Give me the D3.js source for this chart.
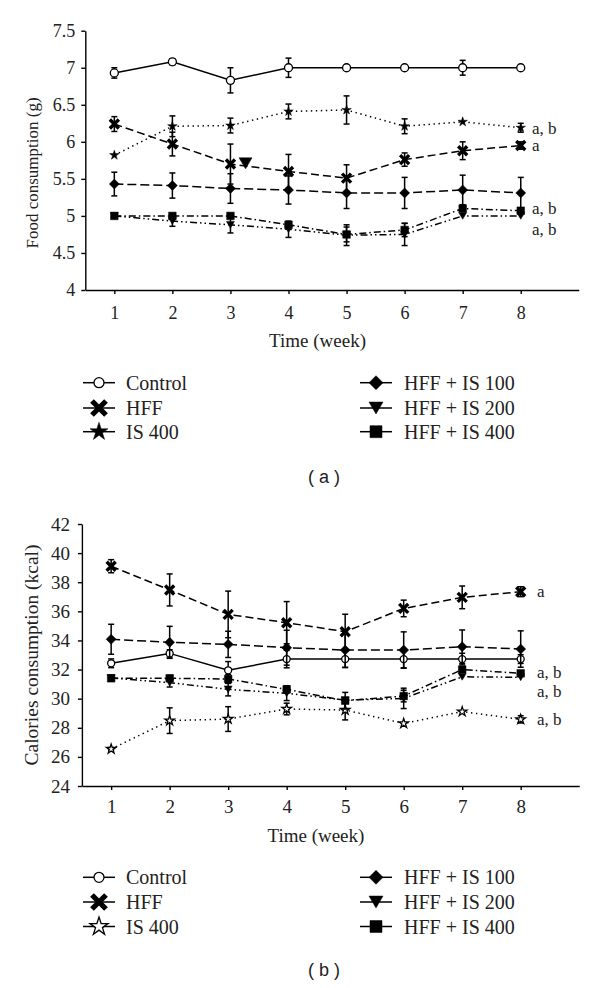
<!DOCTYPE html>
<html><head><meta charset="utf-8">
<script src="https://cdn.jsdelivr.net/npm/d3@7"></script>
<style>body{margin:0;background:#fff}svg{display:block}</style>
</head><body>
<script>
// ---------- DATA ----------
const weeks = [1,2,3,4,5,6,7,8];
const seriesNames = ["Control","HFF","IS 400","HFF + IS 100","HFF + IS 200","HFF + IS 400"];

// Panel (a) Food consumption (g)
const controlA   = [6.93,7.08,6.83,7.00,7.00,7.00,7.00,7.00];
const controlAErr= [0.07,0.04,0.17,0.13,0,0,0.10,0];
const hffA       = [6.24,5.97,5.70,5.60,5.51,5.76,5.88,5.95];
const hffAErr    = [0.10,0.16,0.27,0.23,0.18,0.09,0.12,0.05];
const is400A     = [5.82,6.21,6.22,6.41,6.43,6.21,6.27,6.19];
const is400AErr  = [0,0.14,0.10,0.10,0.19,0.10,0,0.06];
const hffIs100A  = [5.43,5.41,5.37,5.35,5.31,5.31,5.35,5.31];
const hffIs100AErr=[0.16,0.17,0.20,0.19,0.21,0.21,0.20,0.21];
const hffIs200A  = [5.00,4.93,4.88,4.82,4.74,4.75,5.00,5.00];
const hffIs200AErr=[0,0.07,0.11,0.11,0.14,0.15,0,0];
const hffIs400A  = [5.00,5.00,5.00,4.88,4.75,4.81,5.10,5.07];
const hffIs400AErr=[0,0,0,0.03,0.10,0.09,0,0];
const strayMarkerA = {week:3.26, value:5.71};
const yTicksA = [4,4.5,5,5.5,6,6.5,7,7.5];
const yTickLabelsA = ["4","4.5","5","5.5","6","6.5","7","7.5"];
const annotA = [{text:"a, b",value:6.19},{text:"a",value:5.95},{text:"a, b",value:5.11},{text:"a, b",value:4.82}];

// Panel (b) Calories consumption (kcal)
const controlB   = [32.43,33.11,31.95,32.72,32.72,32.72,32.72,32.72];
const controlBErr= [0.30,0.25,0.60,0.60,0.57,0.60,0.40,0.30];
const hffB       = [39.10,37.47,35.79,35.22,34.60,36.20,36.96,37.35];
const hffBErr    = [0.45,1.10,1.60,1.45,1.20,0.57,0.78,0.34];
const is400B     = [26.54,28.49,28.60,29.29,29.22,28.30,29.11,28.58];
const is400BErr  = [0.10,0.88,0.85,0.40,0.68,0,0,0.25];
const hffIs100B  = [34.08,33.87,33.73,33.50,33.34,33.34,33.57,33.41];
const hffIs100BErr=[1.03,1.10,0.90,1.20,1.20,1.25,1.15,1.25];
const hffIs200B  = [31.42,31.10,30.64,30.37,29.90,30.02,31.50,31.47];
const hffIs200BErr=[0,0.30,0.45,0.50,0,0.70,0,0];
const hffIs400B  = [31.40,31.40,31.35,30.64,29.86,30.18,32.00,31.74];
const hffIs400BErr=[0,0.20,0.30,0.25,0.57,0.40,0,0];
const yTicksB = [24,26,28,30,32,34,36,38,40,42];
const yTickLabelsB = ["24","26","28","30","32","34","36","38","40","42"];
const annotB = [{text:"a",value:37.4},{text:"a, b",value:31.8},{text:"a, b",value:30.55},{text:"a, b",value:28.6}];

// ---------- STYLE ----------
const SERIF = "'Liberation Serif', 'Times New Roman', serif";
const dashes = [null,"8,4","1.4,3.6","9,4","7,3,1.5,3,1.5,3","7,3,1.5,3"];
const shapes = ["circle","x","star","diamond","tri","square"];

const svg = d3.select("body").append("svg").attr("width",600).attr("height",988);

function markerPath(shape, s){
  switch(shape){
    case "circle": return d3.symbol(d3.symbolCircle, Math.PI*s*s)();
    case "star": return d3.symbol(d3.symbolStar, s*s/0.8908)();
    case "diamond": { return `M0,${-s}L${s},0L0,${s}L${-s},0Z`; }
    case "tri": { const h=s*1.7; return `M${-s},${-h/2}L${s},${-h/2}L0,${h/2}Z`; }
    case "square": return `M${-s},${-s}H${s}V${s}H${-s}Z`;
    case "x": return `M${-s},${-s}L${s},${s}M${-s},${s}L${s},${-s}`;
  }
}
function drawMarker(g, shape, cx, cy, s, open){
  const p = g.append("path").attr("d", markerPath(shape,s)).attr("transform",`translate(${cx},${cy})`);
  if(shape==="x"){ p.attr("fill","none").attr("stroke","#000").attr("stroke-width",s*0.75); }
  else if(shape==="circle" || open){ p.attr("fill","#fff").attr("stroke","#000").attr("stroke-width",1.3); }
  else { p.attr("fill","#000").attr("stroke","#000").attr("stroke-width",0.5); }
  return p;
}

function panel(cfg){
  const g = svg.append("g");
  const x = d3.scaleLinear().domain([0.5,9]).range(cfg.xRange);
  const y = d3.scaleLinear().domain(cfg.yDomain).range(cfg.yRange);

  const ya = g.append("g").attr("transform",`translate(${cfg.xRange[0]},0)`)
    .call(d3.axisLeft(y).tickValues(cfg.yTicks).tickFormat((d,i)=>cfg.yTickLabels[i]).tickSize(4).tickSizeOuter(0).tickPadding(cfg.yPad));
  const xa = g.append("g").attr("transform",`translate(0,${cfg.yRange[0]})`)
    .call(d3.axisBottom(x).tickValues(weeks).tickFormat(d=>d).tickSize(4).tickSizeOuter(0).tickPadding(cfg.xPad));
  [ya,xa].forEach(a=>{
    a.selectAll("path,line").attr("stroke","#000").attr("stroke-width",1.4);
    a.selectAll("text").attr("font-family",SERIF).attr("font-size",cfg.tickFont).attr("fill","#222");
  });

  // series
  cfg.series.forEach((s,si)=>{
    const pts = weeks.map((w,i)=>({w, v:s.vals[i], e:s.err[i]}));
    const line = d3.line().x(d=>x(d.w)).y(d=>y(d.v));
    g.append("path").datum(pts).attr("d",line).attr("fill","none").attr("stroke","#000")
      .attr("stroke-width",1.5).attr("stroke-dasharray",dashes[si]);
  });
  cfg.series.forEach((s,si)=>{
    const pts = weeks.map((w,i)=>({w, v:s.vals[i], e:s.err[i]}));
    pts.filter(d=>d.e>0).forEach(d=>{
      const eg = g.append("g").attr("stroke","#000").attr("stroke-width",1.5);
      const cx=x(d.w), y1=y(d.v+d.e), y2=y(d.v-d.e);
      eg.append("line").attr("x1",cx).attr("x2",cx).attr("y1",y1).attr("y2",y2);
      eg.append("line").attr("x1",cx-3).attr("x2",cx+3).attr("y1",y1).attr("y2",y1);
      eg.append("line").attr("x1",cx-3).attr("x2",cx+3).attr("y1",y2).attr("y2",y2);
    });
    pts.forEach(d=>{
      drawMarker(g, shapes[si], x(d.w), y(d.v), cfg.msize[si], s.open);
    });
  });
  if(cfg.stray){
    drawMarker(g,"tri",x(cfg.stray.week),y(cfg.stray.value),6.5,false);
  }
  // annotations
  cfg.annot.forEach(a=>{
    g.append("text").attr("x",cfg.annotX).attr("y",y(a.value)).attr("dy","0.35em")
      .attr("font-family",SERIF).attr("font-size",17).attr("fill","#222").text(a.text);
  });
  // axis titles
  g.append("text").attr("transform",`translate(${cfg.yTitleX},${cfg.yTitleY}) rotate(-90)`)
    .attr("text-anchor","middle").attr("dy","0.35em").attr("font-family",SERIF).attr("font-size",cfg.yTitleFont)
    .attr("fill","#222").text(cfg.yTitle);
  g.append("text").attr("x",(x(1)+x(8))/2).attr("y",cfg.xTitleY).attr("dy","0.35em")
    .attr("text-anchor","middle").attr("font-family",SERIF).attr("font-size",19).attr("fill","#222").text("Time (week)");

  // legend
  const cols = [{lx:83, tx:126},{lx:360, tx:404}];
  seriesNames.forEach((n,i)=>{
    const c = cols[Math.floor(i/3)], ry = cfg.legendY[i%3];
    const lg = g.append("g");
    lg.append("line").attr("x1",c.lx).attr("x2",c.lx+32).attr("y1",ry).attr("y2",ry).attr("stroke","#000").attr("stroke-width",1.5);
    const open = cfg.series[i].open && shapes[i]!=="circle";
    drawMarker(lg, shapes[i], c.lx+16, ry, cfg.legendSize[i], open);
    lg.append("text").attr("x",c.tx).attr("y",ry).attr("dy","0.35em").attr("font-family",SERIF)
      .attr("font-size",20).attr("fill","#222").text(n);
  });
  g.append("text").attr("x",324).attr("y",cfg.captionY).attr("dy","0.35em").attr("text-anchor","middle")
    .attr("font-family","'Liberation Sans', Arial, sans-serif").attr("font-size",18).attr("fill","#222").attr("xml:space","preserve").text("( "+cfg.caption+" )");
}

panel({
  xRange:[85.3,578.8], yDomain:[4,7.5], yRange:[290,30.7],
  yTicks:yTicksA, yTickLabels:yTickLabelsA, yPad:6, xPad:12, tickFont:18,
  series:[
    {vals:controlA, err:controlAErr},
    {vals:hffA, err:hffAErr},
    {vals:is400A, err:is400AErr},
    {vals:hffIs100A, err:hffIs100AErr},
    {vals:hffIs200A, err:hffIs200AErr},
    {vals:hffIs400A, err:hffIs400AErr}],
  msize:[4,4.5,5,5,4,3.8], stray:strayMarkerA,
  annot:annotA, annotX:532,
  yTitle:"Food consumption (g)", yTitleX:32, yTitleY:173, yTitleFont:17,
  xTitleY:340, legendY:[382.7,408,431.7], legendSize:[5,7,9.5,7,7,6],
  captionY:477, caption:"a"
});
panel({
  xRange:[81.9,579.2], yDomain:[24,42], yRange:[786,524],
  yTicks:yTicksB, yTickLabels:yTickLabelsB, yPad:8, xPad:10, tickFont:19,
  series:[
    {vals:controlB, err:controlBErr},
    {vals:hffB, err:hffBErr},
    {vals:is400B, err:is400BErr, open:true},
    {vals:hffIs100B, err:hffIs100BErr},
    {vals:hffIs200B, err:hffIs200BErr},
    {vals:hffIs400B, err:hffIs400BErr}],
  msize:[3.5,4.5,5,5,4,3.8],
  annot:annotB, annotX:537,
  yTitle:"Calories consumption (kcal)", yTitleX:31, yTitleY:655, yTitleFont:19.5,
  xTitleY:835, legendY:[877.3,902,926.5], legendSize:[5,7,9.5,7,7,6],
  captionY:970, caption:"b"
});
</script>
</body></html>
